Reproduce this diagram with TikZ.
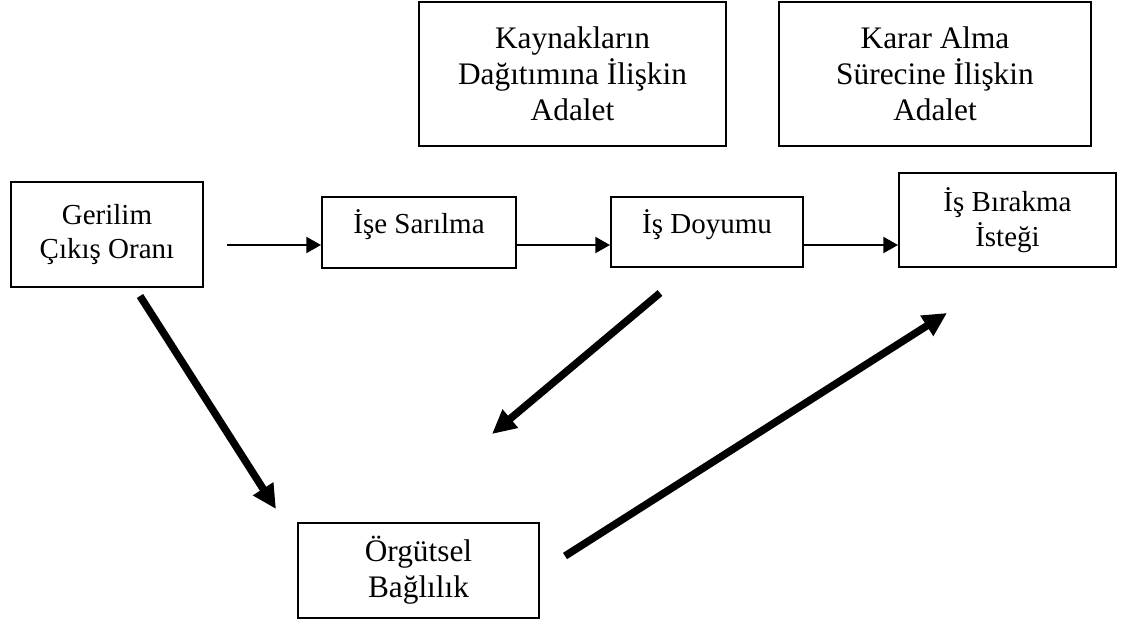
\documentclass[tikz,border=0pt]{standalone}
\usepackage{fontspec}
\setmainfont{Liberation Serif}
\usetikzlibrary{arrows.meta}
\begin{document}
\begin{tikzpicture}[x=0.75pt,y=-0.75pt,
  box/.style={draw, line width=1.5pt, inner sep=0pt, align=center},
  oneline/.style={text height=0.6em, text depth=0.43em},
  thinarr/.style={line width=1.5pt, -{Triangle[length=11pt,width=12pt]}},
  thickarr/.style={line width=5.6pt, -{Triangle[length=18pt,width=17pt]}},
  bigtxt/.style={font=\fontsize{23.5pt}{27pt}\selectfont},
  midtxt/.style={font=\fontsize{21.75pt}{26pt}\selectfont}]
\useasboundingbox (0,0) rectangle (1124,624);
\node[box,bigtxt,minimum width=230.25pt,minimum height=108pt] (kay) at (572.5,74) {Kaynakların\\Dağıtımına İlişkin\\Adalet};
\node[box,bigtxt,minimum width=234pt,minimum height=108pt] (kar) at (935,74) {Karar Alma\\Sürecine İlişkin\\Adalet};
\node[box,midtxt,minimum width=144pt,minimum height=78.75pt] (ger) at (107,234.5) {Gerilim\\Çıkış Oranı};
\node[box,midtxt,oneline,minimum width=145.5pt,minimum height=53.25pt] (ise) at (419,232.5) {İşe Sarılma};
\node[box,midtxt,oneline,minimum width=144pt,minimum height=52.5pt] (doy) at (707,232) {İş Doyumu};
\node[box,midtxt,minimum width=162.75pt,minimum height=70.5pt] (bir) at (1007.5,220) {İş Bırakma\\İsteği};
\node[box,bigtxt,minimum width=180.75pt,minimum height=71.25pt] (org) at (418.5,570.5) {Örgütsel\\Bağlılık};
\coordinate (s1) at (227,245);
\draw[thinarr] (s1) -- (ise.west |- s1);
\draw[thinarr] (ise.east |- s1) -- (doy.west |- s1);
\draw[thinarr] (doy.east |- s1) -- (bir.west |- s1);
\coordinate (a1) at (140,296);
\coordinate (a2) at (276,509);
\coordinate (b1) at (660,293);
\coordinate (b2) at (492,434);
\coordinate (c1) at (565,556);
\coordinate (c2) at (947,313);
\draw[thickarr] (a1) -- (a2);
\draw[thickarr] (b1) -- (b2);
\draw[thickarr] (c1) -- (c2);
\end{tikzpicture}
\end{document}
